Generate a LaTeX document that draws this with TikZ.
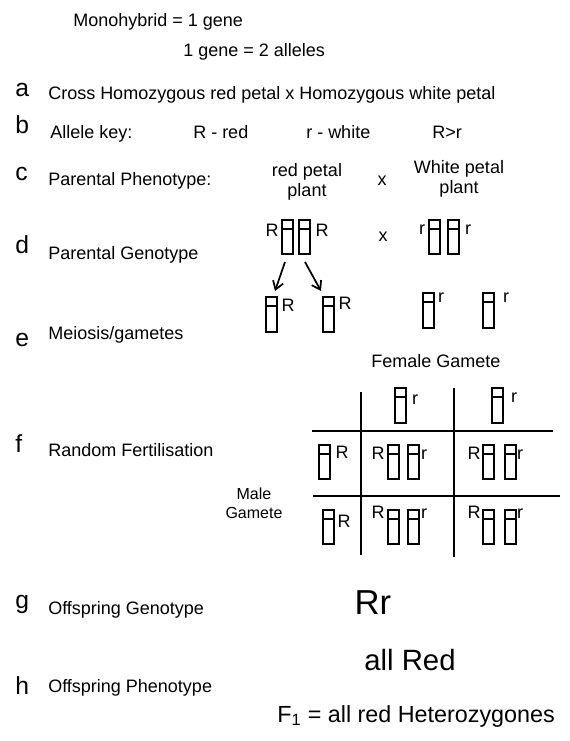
\documentclass[tikz,border=0pt]{standalone}
\usepackage{fontspec}
\setmainfont{Liberation Sans}
\usetikzlibrary{arrows.meta}
\tikzset{
  txt/.style={inner sep=0pt, font=\fontsize{13.5}{16}\selectfont},
  lab/.style={inner sep=0pt, anchor=base west, font=\fontsize{13.5}{16}\selectfont},
  letter/.style={inner sep=0pt, anchor=base west, font=\fontsize{18.5}{20}\selectfont},
  al/.style={inner sep=0pt, anchor=base, font=\fontsize{13.5}{16}\selectfont},
  chr/.style={line width=1.5pt},
  grid line/.style={line width=1.5pt},
  arr/.style={line width=1.3pt, -{Straight Barb[length=6pt,width=8pt]}},
  pics/chromo/.style={code={
    \draw[chr] (0,0) rectangle (11,#1);
    \draw[chr] (0,9) -- (11,9);
  }},
}
\begin{document}
\begin{tikzpicture}[x=0.75pt,y=-0.75pt]
\useasboundingbox (0,0) rectangle (569,741);
% header
\node[lab] (mono) at (73,27) {Monohybrid = 1 gene};
\node[lab] (gene) at (183,57) {1 gene = 2 alleles};
% row letters
\node[letter] (la) at (15,97) {a};
\node[letter] (lb) at (15,134) {b};
\node[letter] (lc) at (15,181) {c};
\node[letter] (ld) at (15,254) {d};
\node[letter] (le) at (15,346) {e};
\node[letter] (lf) at (15,452) {f};
\node[letter] (lg) at (15,608) {g};
\node[letter] (lh) at (15,694) {h};
% row labels
\node[lab] (ta) at (48,100) {Cross Homozygous red petal x Homozygous white petal};
\node[lab] (tb) at (50,139) {Allele key:};
\node[lab] (kR) at (193,139) {R - red};
\node[lab] (kr) at (306,139) {r - white};
\node[lab] (kd) at (432,139) {R>r};
\node[lab] (tc) at (48,186) {Parental Phenotype:};
\node[txt, anchor=base, align=center] (redp) at (307,197) {red petal\\[-1pt]plant};
\node[txt, anchor=base] (xc) at (382,186) {x};
\node[txt, anchor=base, align=center] (whitep) at (459,194) {White petal\\[-1pt]plant};
\node[lab] (td) at (48,259) {Parental Genotype};
\node[lab] (te) at (48,339) {Meiosis/gametes};
\node[lab] (tf) at (48,456) {Random Fertilisation};
\node[lab] (tg) at (48,614) {Offspring Genotype};
\node[lab] (th) at (48,692) {Offspring Phenotype};
% parental genotype
\node[al] (pR1) at (272,237) {R};
\pic at (282,220) {chromo=34};
\pic at (299,220) {chromo=34};
\node[al] (pR2) at (322,237) {R};
\node[txt, anchor=base] (xd) at (383,242) {x};
\node[al] (pr1) at (422,235) {r};
\pic at (429,220) {chromo=34};
\pic at (448,220) {chromo=34};
\node[al] (pr2) at (468,235) {r};
% meiosis arrows
\coordinate (a1s) at (285,262);
\coordinate (a1e) at (275,291);
\coordinate (a2s) at (305,262);
\coordinate (a2e) at (321,291);
\draw[arr] (a1s) -- (a1e);
\draw[arr] (a2s) -- (a2e);
% gametes
\pic at (266,297) {chromo=35};
\node[al] (gR1) at (288,311) {R};
\pic at (323,297) {chromo=35};
\node[al] (gR2) at (345,309) {R};
\pic at (423,293) {chromo=35};
\node[al] (gr1) at (441,302) {r};
\pic at (483,293) {chromo=35};
\node[al] (gr2) at (506,302) {r};
% Punnett square
\node[txt, anchor=base] (fem) at (436,367) {Female Gamete};
\node[txt, anchor=base, align=center, font=\fontsize{12}{15}\selectfont] (male) at (254,518) {Male\\[-1pt]Gamete};
\coordinate (v1t) at (361,392); \coordinate (v1b) at (361,555);
\coordinate (v2t) at (454,388); \coordinate (v2b) at (454,557);
\coordinate (h1l) at (312,431); \coordinate (h1r) at (553,431);
\coordinate (h2l) at (313,496); \coordinate (h2r) at (560,496);
\draw[grid line] (v1t) -- (v1b);
\draw[grid line] (v2t) -- (v2b);
\draw[grid line] (h1l) -- (h1r);
\draw[grid line] (h2l) -- (h2r);
% header gametes
\pic at (395,388) {chromo=35};
\node[al] (hr1) at (415,404) {r};
\pic at (492,388) {chromo=35};
\node[al] (hr2) at (514,402) {r};
% row 1
\pic at (319,445) {chromo=34};
\node[al] (mR1) at (342,458) {R};
\node[al] (c11R) at (378,459) {R};
\pic at (388,445) {chromo=34};
\pic at (408,445) {chromo=34};
\node[al] (c11r) at (424,459) {r};
\node[al] (c12R) at (474,459) {R};
\pic at (483,445) {chromo=34};
\pic at (505,445) {chromo=34};
\node[al] (c12r) at (520,459) {r};
% row 2
\pic at (323,510) {chromo=34};
\node[al] (mR2) at (344,527) {R};
\node[al] (c21R) at (378,518) {R};
\pic at (388,510) {chromo=34};
\pic at (408,510) {chromo=34};
\node[al] (c21r) at (424,518) {r};
\node[al] (c22R) at (474,518) {R};
\pic at (483,510) {chromo=34};
\pic at (505,510) {chromo=34};
\node[al] (c22r) at (520,518) {r};
% results
\node[inner sep=0pt, anchor=base, font=\fontsize{26}{30}\selectfont] (rr) at (373,614) {Rr};
\node[inner sep=0pt, anchor=base, font=\fontsize{22}{26}\selectfont] (allred) at (410,670) {all Red};
\node[inner sep=0pt, anchor=base west, font=\fontsize{17.5}{22}\selectfont] (f1) at (277,722) {F\textsubscript{1} = all red Heterozygones};
\end{tikzpicture}
\end{document}
